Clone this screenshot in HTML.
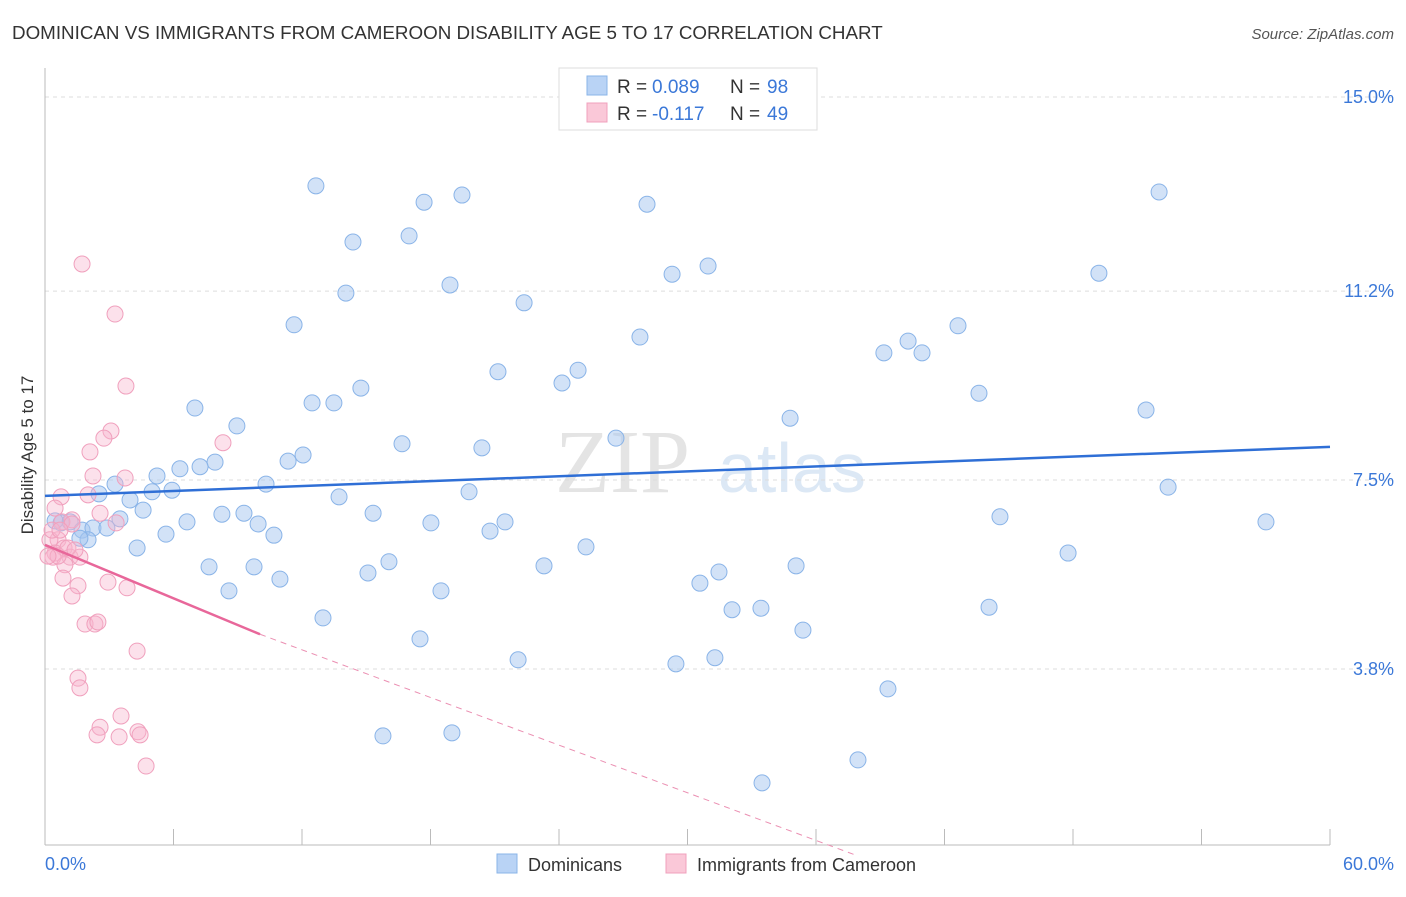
<!DOCTYPE html>
<html><head><meta charset="utf-8"><style>
body{margin:0;background:#fff;font-family:"Liberation Sans",sans-serif;}
</style></head><body>
<svg width="1406" height="892" xmlns="http://www.w3.org/2000/svg" font-family="Liberation Sans, sans-serif">
<text x="12" y="39" font-size="18.8" fill="#333">DOMINICAN VS IMMIGRANTS FROM CAMEROON DISABILITY AGE 5 TO 17 CORRELATION CHART</text>
<text x="1394" y="39" font-size="15" fill="#555" font-style="italic" text-anchor="end">Source: ZipAtlas.com</text>
<text x="690" y="492" font-size="90" fill="#e4e4e4" font-family="Liberation Serif, serif" text-anchor="end">ZIP</text>
<text x="718" y="492" font-size="70" fill="#dce8f5">atlas</text>
<g id="grid"></g>
<g id="axes"></g>
<g id="dots"></g>
<g id="trend"></g>
<text x="33" y="455" font-size="17" fill="#333" transform="rotate(-90 33 455)" text-anchor="middle">Disability Age 5 to 17</text>
<text x="45" y="870" font-size="18" fill="#3b78d8">0.0%</text>
<text x="1394" y="870" font-size="18" fill="#3b78d8" text-anchor="end">60.0%</text>
<g font-size="19">
<rect x="559" y="68" width="258" height="62" fill="#fff" stroke="#ddd"/>
<rect x="587" y="76" width="20" height="19" fill="#b9d3f5" stroke="#8ab4e8"/>
<rect x="587" y="103" width="20" height="19" fill="#fac8d8" stroke="#f0a0bd"/>
<text x="617" y="93" fill="#333">R =</text><text x="652" y="93" fill="#3b78d8">0.089</text>
<text x="730" y="93" fill="#333">N =</text><text x="767" y="93" fill="#3b78d8">98</text>
<text x="617" y="120" fill="#333">R =</text><text x="652" y="120" fill="#3b78d8">-0.117</text>
<text x="730" y="120" fill="#333">N =</text><text x="767" y="120" fill="#3b78d8">49</text>
</g>
<g>
<rect x="497" y="854" width="20" height="19" fill="#b9d3f5" stroke="#8ab4e8"/>
<text x="528" y="871" font-size="18" fill="#333">Dominicans</text>
<rect x="666" y="854" width="20" height="19" fill="#fac8d8" stroke="#f0a0bd"/>
<text x="697" y="871" font-size="18" fill="#333">Immigrants from Cameroon</text>
</g>
</svg>
<script>
const yTicks=[15.0,11.2,7.5,3.8];
const yTickLabels=["15.0%","11.2%","7.5%","3.8%"];
const xTicks=[0,6,12,18,24,30,36,42,48,54,60];
const blueX=[12.65,17.70,19.47,28.11,52.02,14.38,17.00,29.28,30.96,49.21,18.91,14.05,22.37,11.63,27.78,42.63,39.17,40.30,40.95,21.15,24.89,24.14,14.75,43.61,7.00,12.47,13.49,51.41,34.79,8.96,16.67,20.40,26.66,12.05,7.94,11.35,6.30,5.23,7.24,10.32,3.27,5.00,5.93,2.52,3.97,4.58,13.73,19.80,52.44,8.26,9.29,15.32,3.50,6.63,9.95,0.75,1.17,1.73,2.24,2.89,2.01,10.69,5.65,18.02,21.48,20.78,44.59,57.01,4.30,25.26,47.77,7.66,9.76,16.06,15.08,23.30,35.07,31.47,10.97,30.58,8.59,18.49,32.08,33.43,44.08,12.98,35.39,17.51,22.09,29.46,31.28,39.36,15.78,19.00,37.96,33.48,0.47,1.63];
const blueY=[13.26,12.94,13.08,12.90,13.14,12.16,12.28,11.53,11.69,11.55,11.32,11.16,10.97,10.54,10.30,10.52,9.99,10.22,9.99,9.62,9.65,9.40,9.30,9.20,8.91,9.01,9.01,8.87,8.71,8.56,8.21,8.13,8.32,7.99,7.85,7.87,7.72,7.58,7.76,7.42,7.42,7.27,7.30,7.23,7.11,6.91,7.17,7.27,7.36,6.83,6.85,6.85,6.74,6.68,6.64,6.66,6.68,6.52,6.56,6.56,6.33,6.42,6.44,6.66,6.68,6.50,6.78,6.68,6.17,6.19,6.07,5.80,5.80,5.90,5.68,5.82,5.82,5.70,5.56,5.48,5.33,5.33,4.96,4.99,5.01,4.80,4.56,4.39,3.98,3.90,4.02,3.41,2.49,2.55,2.02,1.57,6.70,6.36];
const pinkX=[1.73,3.27,3.78,3.08,8.31,2.75,2.10,2.24,3.74,0.75,2.01,0.47,2.57,1.26,0.79,0.61,0.23,0.89,0.47,1.17,1.63,0.37,0.93,0.61,0.84,1.54,1.26,3.32,2.94,3.83,1.87,2.33,2.47,4.30,1.54,1.63,3.55,2.57,4.34,2.43,3.46,4.44,4.72,1.26,0.33,1.07,0.14,0.70,1.40];
const pinkY=[11.73,10.75,9.34,8.46,8.23,8.32,8.05,7.58,7.54,7.17,7.21,6.95,6.85,6.72,6.68,6.33,6.33,6.17,6.07,5.99,5.99,5.99,5.84,6.01,5.58,5.43,5.23,6.66,5.50,5.39,4.68,4.68,4.72,4.15,3.62,3.43,2.88,2.66,2.57,2.51,2.47,2.51,1.90,6.64,6.52,6.17,6.01,6.52,6.13];
const blueTrend=[[0,7.19],[60,8.15]];
const pinkTrendSolid=[[0,6.23],[10.04,4.48]];
const pinkTrendDash=[[10.04,4.48],[37.82,0.16]];
const NS="http://www.w3.org/2000/svg";
const X=v=>45+v/60*1285, Y=v=>97+(15-v)*51.07;
function mk(tag,attrs,parent){const e=document.createElementNS(NS,tag);for(const k in attrs)e.setAttribute(k,attrs[k]);document.getElementById(parent).appendChild(e);return e;}
yTicks.forEach((t,i)=>{
 const g=mk('line',{x1:45,x2:1394,y1:Y(t),y2:Y(t),stroke:'#ddd','stroke-dasharray':'4,4'},'grid');
 
 
 const l=mk('text',{x:1394,y:Y(t)+6,'font-size':18,fill:'#3b78d8','text-anchor':'end'},'grid');
 l.textContent=yTickLabels[i];
 
 
});
const ax=mk('line',{x1:45,x2:45,y1:68,y2:845,stroke:'#bbb'},'axes');


const bx=mk('line',{x1:45,x2:1330,y1:845,y2:845,stroke:'#bbb'},'axes');


xTicks.forEach(t=>{
 const k=mk('line',{x1:X(t),x2:X(t),y1:829,y2:845,stroke:'#bbb'},'axes');
 
 
});
blueX.forEach((x,i)=>{
 const c=mk('circle',{cx:X(x),cy:Y(blueY[i]),r:8,fill:'rgba(165,198,240,0.5)',stroke:'#8ab4e8','stroke-width':1},'dots');
 
 
});
pinkX.forEach((x,i)=>{
 const c=mk('circle',{cx:X(x),cy:Y(pinkY[i]),r:8,fill:'rgba(248,180,205,0.4)',stroke:'#f0a0bd','stroke-width':1},'dots');
 
 
});
const bt=mk('line',{x1:X(blueTrend[0][0]),y1:Y(blueTrend[0][1]),x2:X(blueTrend[1][0]),y2:Y(blueTrend[1][1]),stroke:'#2f6fd6','stroke-width':2.5},'trend');


const pt=mk('line',{x1:X(pinkTrendSolid[0][0]),y1:Y(pinkTrendSolid[0][1]),x2:X(pinkTrendSolid[1][0]),y2:Y(pinkTrendSolid[1][1]),stroke:'#e8679a','stroke-width':2.5},'trend');


const pd=mk('line',{x1:X(pinkTrendDash[0][0]),y1:Y(pinkTrendDash[0][1]),x2:X(pinkTrendDash[1][0]),y2:Y(pinkTrendDash[1][1]),stroke:'#eb8fb2','stroke-width':1,'stroke-dasharray':'6,5'},'trend');


</script>
</body></html>
